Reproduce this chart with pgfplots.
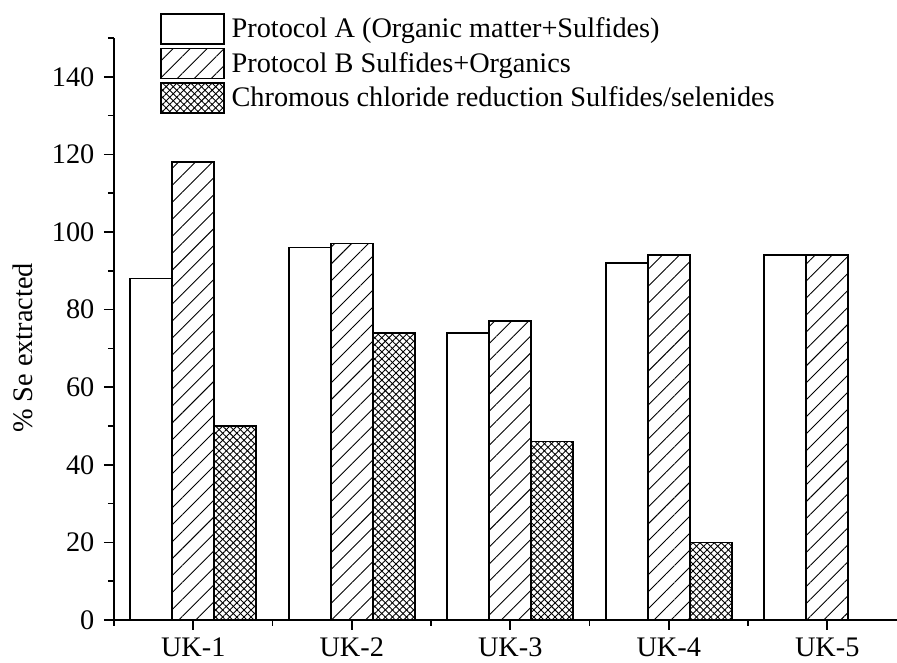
\documentclass[border=0pt]{standalone}
\usepackage{fontspec}
\setmainfont{Liberation Serif}
\usepackage{pgfplots}
\pgfplotsset{compat=1.18}
\usetikzlibrary{patterns.meta}

% legend swatch: open rectangle beside the text
\pgfplotsset{
  boxlegend/.style={
    legend image code/.code={
      \draw[##1, line width=1.6pt] (0pt,-6pt) rectangle (63pt,24pt);
    }
  }
}

\begin{document}
\fontsize{28.3}{33}\selectfont
\begin{tikzpicture}
\useasboundingbox (-114pt,-43pt) rectangle (783pt,620pt);
\begin{axis}[
  at={(0,0)}, anchor=south west,
  width=783pt, height=582pt, scale only axis,
  xmin=0.5, xmax=5.44, ymin=0, ymax=150,
  axis x line*=bottom, axis y line*=left,
  axis line style={line width=1.8pt},
  every tick/.style={black, line width=1.6pt},
  tick align=outside,
  major tick length=10pt, minor tick length=6pt,
  xtick={1,2,3,4,5},
  xticklabels={UK-1,UK-2,UK-3,UK-4,UK-5},
  minor xtick={0.5,1.5,2.5,3.5,4.5},
  ytick={0,20,40,60,80,100,120,140},
  minor ytick={10,30,50,70,90,110,130,150},
  /pgf/number format/assume math mode=true,
  ticklabel style={font=\fontsize{28.3}{33}\selectfont},
  xticklabel style={yshift=2pt},
  ylabel={\% Se extracted},
  ylabel style={at={(axis description cs:-0.1162,0.4674)}, anchor=center, font=\fontsize{28.3}{33}\selectfont},
  ybar=0pt, bar width=42pt,
  legend style={
    at={(axis description cs:0.05875,1.04296)}, anchor=north west,
    draw=none, fill=none, inner sep=0pt, outer sep=0pt,
    row sep=3pt, column sep=7pt,
    font=\fontsize{28.3}{33}\selectfont,
    nodes={inner sep=0pt, anchor=base west},
  },
  legend cell align=left,
]
\addplot[boxlegend, draw=black, line width=1.6pt, fill=white]
  coordinates {(1,88) (2,96) (3,74) (4,92) (5,94)};
\addlegendentry{Protocol A (Organic matter+Sulfides)}
\addplot[boxlegend, draw=black, line width=1.6pt,
  pattern={Lines[angle=45, distance=12pt, line width=0.9pt]}]
  coordinates {(1,118) (2,97) (3,77) (4,94) (5,94)};
\addlegendentry{Protocol B Sulfides+Organics}
\addplot[boxlegend, draw=black, line width=1.6pt,
  pattern={Lines[angle=45, distance=5pt, line width=0.9pt]},
  postaction={pattern={Lines[angle=-45, distance=5pt, line width=0.9pt]}}]
  coordinates {(1,50) (2,74) (3,46) (4,20)};
\addlegendentry{Chromous chloride reduction Sulfides/selenides}
\end{axis}
\end{tikzpicture}
\end{document}
